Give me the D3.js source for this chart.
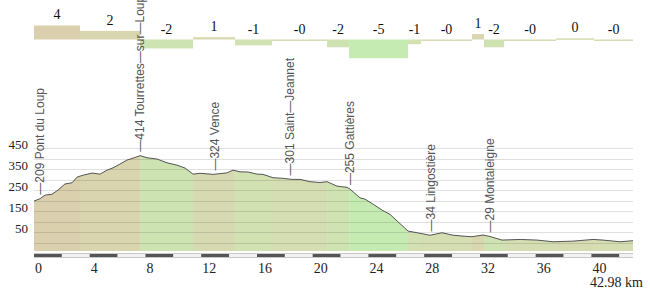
<!DOCTYPE html>
<html>
<head>
<meta charset="utf-8">
<script src="https://cdn.jsdelivr.net/npm/d3@7"></script>
<style>
  body { margin: 0; background: #fff; }
  svg { display: block; }
</style>
</head>
<body>
<svg id="chart"></svg>
<script>
// elevation profile, km / metres
const profileKm = [0, 0.43, 0.79, 1.29, 1.72, 2.22, 2.73, 3.09, 3.52, 4.16, 4.74, 5.24, 5.67, 6.17, 6.67, 7.1, 7.61,
  8.11, 8.83, 9.54, 10.26, 10.84, 11.41, 11.91, 12.85, 13.85, 14.28, 14.78, 15.36, 16.0, 16.43, 17.15, 17.87, 18.51,
  19.09, 19.81, 20.52, 21.03, 21.74, 22.46, 22.67, 23.39, 23.75, 24.33, 24.97, 25.55, 26.12, 26.84, 27.48, 28.42,
  29.28, 30.0, 30.71, 31.43, 32.22, 32.72, 33.58, 34.88, 36.1, 37.24, 38.68, 40.11, 40.83, 42.05, 42.98];
const profileEle = [198, 209, 226, 230, 250, 279, 285, 312, 321, 331, 326, 345, 356, 374, 393, 402, 414,
  404, 398, 380, 369, 355, 326, 330, 325, 332, 345, 337, 336, 326, 325, 309, 306, 301,
  301, 290, 286, 290, 269, 263, 255, 213, 207, 183, 155, 134, 99, 55, 47, 35,
  47, 36, 31, 28, 36, 29, 12, 15, 12, 4, 7, 15, 12, 4, 9];

// slope segments (start km) and grade in %
const segStart = [0, 3.3, 7.61, 11.41, 14.42, 17.08, 21.03, 22.61, 26.84, 27.77, 31.43, 32.29, 33.73, 37.46, 40.19];
const segGrade = [3.6, 2.2, -2.3, 0.6, -1.5, -0.3, -2.0, -4.8, -1.2, -0.3, 1.4, -2.0, -0.3, 0.3, -0.3];

// named places
const placeKm = [0.43, 7.61, 12.98, 18.37, 22.67, 28.49, 32.72];
const placeEle = [209, 414, 324, 301, 255, 34, 29];
const placeName = ["Pont du Loup", "Tourrettes—sur—Loup", "Vence", "Saint—Jeannet", "Gattières", "Lingostière", "Montaleigne"];

const totalKm = 42.98;
const xTicks = [0, 4, 8, 12, 16, 20, 24, 28, 32, 36, 40];
const yLabels = [450, 350, 250, 150, 50];
const gridVals = d3.range(0, 451, 50);

const width = 650, height = 290;
const svg = d3.select("#chart").attr("width", width).attr("height", height);

const x = d3.scaleLinear().domain([0, totalKm]).range([34, 633]);
const y = d3.scaleLinear().domain([-40, 450]).range([251, 148.1]);
const g = d3.scaleLinear().domain([-5, 5]).range([59, 20]);
const color = d3.scaleLinear().domain([-5, 0, 4])
  .range(["#c4ecb3", "#d6dcb2", "#dccfac"]);

const segEnd = segStart.slice(1).concat([totalKm]);
const segs = segStart.map((s, i) => ({ s, e: segEnd[i], grade: segGrade[i] }));
const pts = profileKm.map((k, i) => ({ k, v: profileEle[i] }));

// area clip
const area = d3.area().x(d => x(d.k)).y0(y(-40)).y1(d => y(d.v));
svg.append("clipPath").attr("id", "clipArea")
  .append("path").attr("d", area(pts));

svg.append("g").attr("clip-path", "url(#clipArea)")
  .selectAll("rect").data(segs).join("rect")
  .attr("x", d => x(d.s)).attr("width", d => x(d.e) - x(d.s))
  .attr("y", 140).attr("height", 120)
  .attr("fill", d => color(d.grade));

// gridlines
svg.append("g").selectAll("line").data(gridVals).join("line")
  .attr("x1", x(0)).attr("x2", x(totalKm))
  .attr("y1", d => Math.round(y(d)) + 0.5).attr("y2", d => Math.round(y(d)) + 0.5)
  .attr("stroke", "#000").attr("stroke-opacity", 0.12);

// profile line
svg.append("path")
  .attr("d", d3.line().x(d => x(d.k)).y(d => y(d.v))(pts))
  .attr("fill", "none").attr("stroke", "#555").attr("stroke-width", 1);

// y labels
svg.append("g").selectAll("text").data(yLabels).join("text")
  .attr("x", 28).attr("y", d => y(d) + 0.5)
  .attr("text-anchor", "end")
  .attr("font-family", "Liberation Serif, Times New Roman, serif")
  .attr("font-size", 13).attr("fill", "#222")
  .text(d => d);

// grade bars on top
svg.append("g").selectAll("rect").data(segs).join("rect")
  .attr("x", d => x(d.s)).attr("width", d => x(d.e) - x(d.s))
  .attr("y", d => Math.min(g(d.grade), g(0)))
  .attr("height", d => Math.max(1.5, Math.abs(g(d.grade) - g(0))))
  .attr("fill", d => color(d.grade));

const gradeText = v => (v < 0 ? "-" : "") + Math.abs(Math.round(v));
svg.append("g").selectAll("text").data(segs).join("text")
  .attr("x", d => (x(d.s) + x(d.e)) / 2)
  .attr("y", d => Math.min(g(d.grade), g(0)) - 6)
  .attr("text-anchor", "middle")
  .attr("font-family", "Liberation Serif, Times New Roman, serif")
  .attr("font-size", 14).attr("fill", "#111")
  .text(d => gradeText(d.grade));

// place labels, rotated
svg.append("g").selectAll("text").data(placeKm).join("text")
  .attr("transform", (d, i) => `translate(${x(d) + 3.8},${y(placeEle[i]) - 4}) rotate(-90)`)
  .attr("font-family", "Liberation Sans, Arial, sans-serif")
  .attr("font-size", 12).attr("fill", "#555")
  .text((d, i) => "—" + placeEle[i] + " " + placeName[i]);

// scale bar
const kmSteps = d3.range(0, totalKm, 2);
svg.append("rect").attr("x", x(0)).attr("y", 253)
  .attr("width", x(totalKm) - x(0)).attr("height", 5).attr("fill", "#c8c8c8");
svg.append("g").selectAll("rect").data(kmSteps).join("rect")
  .attr("x", d => x(d)).attr("y", 254)
  .attr("width", d => x(Math.min(d + 2, totalKm)) - x(d)).attr("height", 3)
  .attr("fill", (d, i) => i % 2 === 0 ? "#555" : "#f2f2f2");

// x axis labels
svg.append("g").selectAll("text").data(xTicks).join("text")
  .attr("x", d => x(d) + 1).attr("y", 273)
  .attr("font-family", "Liberation Serif, Times New Roman, serif")
  .attr("font-size", 14).attr("fill", "#222")
  .text(d => d);

svg.append("text")
  .attr("x", 643).attr("y", 287).attr("text-anchor", "end")
  .attr("font-family", "Liberation Serif, Times New Roman, serif")
  .attr("font-size", 14).attr("fill", "#222")
  .text(totalKm + " km");
</script>
</body>
</html>
